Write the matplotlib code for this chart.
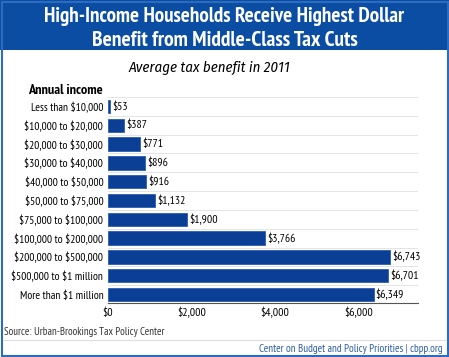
import matplotlib
matplotlib.use("Agg")
import matplotlib.pyplot as plt
from matplotlib.patches import Rectangle
from matplotlib.lines import Line2D

plt.rcParams["text.parse_math"] = False
FONT = ["PT Sans Narrow", "DejaVu Sans"]
IFONT = ["Fira Sans Condensed", "DejaVu Sans"]

categories = ["Less than $10,000", "$10,000 to $20,000", "$20,000 to $30,000",
              "$30,000 to $40,000", "$40,000 to $50,000", "$50,000 to $75,000",
              "$75,000 to $100,000", "$100,000 to $200,000", "$200,000 to $500,000",
              "$500,000 to $1 million", "More than $1 million"]
values = [53, 387, 771, 896, 916, 1132, 1900, 3766, 6743, 6701, 6349]
xticks = [0, 2000, 4000, 6000]
xticklabels = ["$0", "$2,000", "$4,000", "$6,000"]

W, H = 449, 357
fig = plt.figure(figsize=(W / 100, H / 100), dpi=100)
fig.patch.set_facecolor("white")
renderer = fig.canvas.get_renderer()

def fx(px): return px / W
def fy(py): return 1 - py / H

def fit(t, target):
    w = t.get_window_extent(renderer).width
    t.set_fontsize(t.get_fontsize() * target / w)
    return t

# header band
fig.patches.append(Rectangle((0, fy(50)), 1, 50 / H, transform=fig.transFigure,
                             facecolor="#0B4DA2", edgecolor="none", zorder=0))
# border
fig.patches.append(Rectangle((fx(1.5), fy(355.5)), fx(446), 354 / H, transform=fig.transFigure,
                             facecolor="none", edgecolor="#2D6BBE", linewidth=1.5, zorder=5))

fit(fig.text(0.5, fy(16), "High-Income Households Receive Highest Dollar", ha="center", va="center",
             color="white", fontsize=14, fontweight="bold", family=FONT), 363)
fit(fig.text(0.5, fy(40), "Benefit from Middle-Class Tax Cuts", ha="center", va="center",
             color="white", fontsize=14, fontweight="bold", family=FONT), 268)
fit(fig.text(fx(209), fy(68), "Average tax benefit in 2011", ha="center", va="center",
             color="black", fontsize=11, style="italic", family=IFONT), 162)
fit(fig.text(fx(103), fy(91), "Annual income", ha="right", va="center",
             color="black", fontsize=9, fontweight="bold", family=FONT), 75)

ax = fig.add_axes([fx(107.5), fy(303), fx(418 - 107.5), (303 - 97) / H])
y = list(range(len(categories)))
ax.barh(y, values, height=0.71, color="#0B3F96", edgecolor="#2A5DB0", linewidth=0.6, zorder=3)
vlabels = []
for yi, v in zip(y, values):
    vlabels.append(ax.text(v + 50, yi, f"${v:,}", va="center", ha="left", fontsize=8.5,
                           family=FONT, color="black"))
for b in [i + 0.5 for i in range(-1, len(categories) - 1)]:
    ax.axhline(b, color="#E4E4E4", linewidth=0.7, zorder=1)

ax.set_xlim(0, 7410)
ax.set_ylim(10.45, -0.5)
ax.set_yticks(y)
ax.set_yticklabels(categories, fontsize=9.5, family=FONT)
ax.set_xticks(xticks)
ax.set_xticklabels(xticklabels, fontsize=9.5, family=FONT)
ax.tick_params(axis="both", length=0, pad=3)
ax.tick_params(axis="x", pad=3)
for s in ["top", "right", "left"]:
    ax.spines[s].set_visible(False)
ax.spines["bottom"].set_color("#555555")
ax.spines["bottom"].set_linewidth(0.8)

fig.canvas.draw()
# fit label sizes
w = ax.get_yticklabels()[1].get_window_extent(renderer).width
ys = 9.5 * 80 / w
for t in ax.get_yticklabels():
    t.set_fontsize(ys)
w = ax.get_xticklabels()[1].get_window_extent(renderer).width
xs = 9.5 * 29 / w
for t in ax.get_xticklabels():
    t.set_fontsize(xs)
w = vlabels[8].get_window_extent(renderer).width
vs = 8.5 * 28 / w
for t in vlabels:
    t.set_fontsize(vs)

fit(fig.text(fx(4), fy(332), "Source: Urban-Brookings Tax Policy Center", ha="left", va="center",
             color="#333333", fontsize=7.5, family=FONT), 160)
fig.lines.append(Line2D([fx(4), fx(445)], [fy(340), fy(340)], transform=fig.transFigure,
                        color="#DDDDDD", linewidth=0.8))
fit(fig.text(fx(443), fy(348.5), "Center on Budget and Policy Priorities | cbpp.org", ha="right", va="center",
             color="#2A5EA8", fontsize=7.5, family=FONT), 183)

fig.savefig("out.png", dpi=100, facecolor="white")
